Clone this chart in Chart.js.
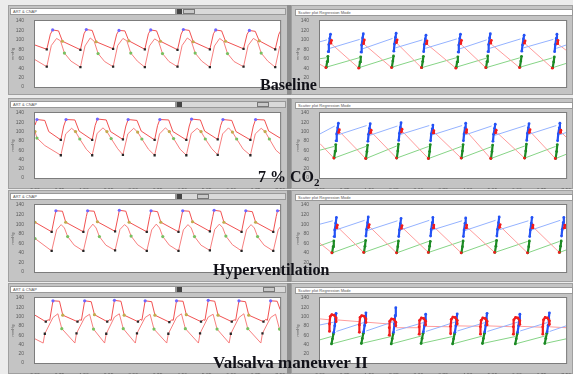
<!DOCTYPE html>
<html>
<head>
<meta charset="utf-8">
<script src="https://cdn.jsdelivr.net/npm/chart.js@4.4.1/dist/chart.umd.min.js"></script>
<style>
  body { margin: 0; width: 573px; height: 374px; background: #ececec; position: relative; overflow: hidden; font-family: "Liberation Sans", Arial, sans-serif; }
  .panel { position: absolute; background: #c4c4c4; border: 1px solid #a0a0a0; box-sizing: border-box; }
  .bar { position: absolute; height: 7px; background: #fff; border: 1px solid #999; box-sizing: border-box; font-size: 4px; line-height: 5px; padding-left: 2px; color: #555; white-space: nowrap; overflow: hidden; }
  .track { position: absolute; height: 7px; background: #d9d9d9; border: 1px solid #999; box-sizing: border-box; }
  .thumb { position: absolute; top: 0; height: 5px; width: 12px; background: #c9c9c9; border: 1px solid #777; box-sizing: border-box; }
  .arrow { position: absolute; top: 0; width: 5px; height: 5px; background: #444; }
  .sep { position: absolute; left: 287px; width: 4px; background: #8e8e8e; }
  canvas { position: absolute; }
  .label { position: absolute; font-family: "Liberation Serif", "Times New Roman", serif; font-weight: bold; font-size: 16px; line-height: 1; color: #111118; white-space: nowrap; z-index: 5; }
  .label sub { font-size: 11px; line-height: 0; vertical-align: -4px; }
</style>
</head>
<body>
<div class="label" style="left:260px;top:77px">Baseline</div>
<div class="label" style="left:258px;top:169px">7 % CO<sub>2</sub></div>
<div class="label" style="left:213px;top:262px">Hyperventilation</div>
<div class="label" style="left:213px;top:354px;font-size:17px">Valsalva maneuver II</div>
<script>
// axis ticks
const pressureTicks = [0, 20, 40, 60, 80, 100, 120, 140];
const timeTickValues = [0, 0.75, 1.5, 2.25, 3, 3.75, 4.5, 5.25, 6, 6.75, 7.5];
const timeTickLabels = ['0.00', '0.75', '1.50', '2.25', '3.00', '3.75', '4.50', '5.25', '6.00', '6.75', '7.50'];

// ---- Baseline ----
const baseUpper = [[0,89],[0.36,80],[0.47,112],[0.54,121],[0.72,119],[0.84,97],
  [1.39,79],[1.50,113],[1.57,122],[1.75,120],[1.87,96],
  [2.39,81],[2.50,112],[2.57,120],[2.75,119],[2.87,98],
  [3.36,80],[3.47,113],[3.54,121],[3.72,119],[3.84,97],
  [4.36,79],[4.47,112],[4.54,122],[4.72,120],[4.84,96],
  [5.35,80],[5.46,113],[5.53,121],[5.71,119],[5.83,97],
  [6.38,81],[6.49,112],[6.56,120],[6.74,118],[6.86,98],
  [7.35,80],[7.46,112],[7.53,121]];
const baseLower = [[0,58],[0.36,43],[0.50,88],[0.66,103],[0.78,98],[0.90,72],[1.10,55],
  [1.39,42],[1.53,87],[1.69,104],[1.81,97],[1.93,71],[2.13,54],
  [2.39,43],[2.53,88],[2.69,103],[2.81,98],[2.93,72],[3.13,55],
  [3.36,42],[3.50,87],[3.66,102],[3.78,97],[3.90,71],[4.10,54],
  [4.36,43],[4.50,88],[4.66,104],[4.78,98],[4.90,72],[5.10,55],
  [5.35,42],[5.49,87],[5.65,103],[5.77,97],[5.89,71],[6.09,54],
  [6.38,43],[6.52,88],[6.68,103],[6.80,98],[6.92,72],[7.12,55],
  [7.35,42],[7.49,87]];
const baseBlack = [[0.36,80],[0.36,43],[1.39,79],[1.39,42],[2.39,81],[2.39,43],[3.36,80],[3.36,42],
  [4.36,79],[4.36,43],[5.35,80],[5.35,42],[6.38,81],[6.38,43],[7.35,80],[7.35,42]];
const baseBlue = [[0.54,121],[1.57,122],[2.57,120],[3.54,121],[4.54,122],[5.53,121],[6.56,120]];
const baseYellow = [[0.84,97],[1.87,96],[2.87,98],[3.84,97],[4.84,96],[5.83,97],[6.86,98]];
const baseGreen = [[0.90,72],[1.93,71],[2.93,72],[3.90,71],[4.90,72],[5.89,71],[6.92,72]];

const baseSpotsGreen = [[0.19,42],[0.22,54],[0.24,65],null,[1.19,41],[1.22,53],[1.24,64],null,[2.19,42],[2.22,55],[2.24,66],null,
  [3.10,41],[3.13,54],[3.15,65],null,[4.15,42],[4.18,53],[4.20,64],null,[5.06,41],[5.09,54],[5.11,66],null,
  [6.09,42],[6.12,55],[6.14,65],null,[7.09,41],[7.12,53],[7.14,64]];
const baseSpotsBlue = [[0.25,75],[0.27,90],[0.30,103],[0.32,112],null,[1.25,74],[1.27,89],[1.30,104],[1.32,113],null,
  [2.25,76],[2.27,91],[2.30,105],[2.32,114],null,[3.16,75],[3.18,90],[3.21,102],[3.23,110],null,
  [4.21,74],[4.23,89],[4.26,103],[4.28,112],null,[5.12,75],[5.14,90],[5.17,104],[5.19,113],null,
  [6.15,76],[6.17,89],[6.20,102],[6.22,110],null,[7.15,75],[7.17,90],[7.20,103],[7.22,112]];
const baseSpotsRed = [[0.18,41],null,[0.33,93],[0.35,99],null,[1.18,40],null,[1.33,92],[1.35,100],null,
  [2.18,41],null,[2.33,94],[2.35,100],null,[3.09,41],null,[3.24,92],[3.26,98],null,
  [4.14,40],null,[4.29,92],[4.31,99],null,[5.05,41],null,[5.20,93],[5.22,99],null,
  [6.08,41],null,[6.23,93],[6.25,98],null,[7.08,40],null,[7.23,92],[7.25,99]];
const baseLineBlue = [[0,96],[0.21,100],null,[0.30,82],[1.21,101],null,[1.30,81],[2.21,103],null,[2.30,83],[3.12,100],null,
  [3.21,82],[4.17,102],null,[4.26,81],[5.08,100],null,[5.17,82],[6.11,102],null,[6.20,83],[7.11,101],null,[7.20,82],[7.5,89]];
const baseLineRed = [[0,48],[0.18,41],null,[0.34,92],[1.18,40],null,[1.34,91],[2.18,41],null,[2.34,93],[3.09,41],null,
  [3.24,92],[4.14,40],null,[4.29,91],[5.05,41],null,[5.20,92],[6.08,41],null,[6.23,93],[7.08,40],null,[7.23,92],[7.5,78]];
const baseLineGreen = [[0,60],[0.19,62],null,[0.19,42],[1.19,62],null,[1.19,41],[2.19,63],null,[2.19,42],[3.10,61],null,
  [3.10,41],[4.15,62],null,[4.15,42],[5.06,61],null,[5.06,41],[6.09,62],null,[6.09,42],[7.09,62],null,[7.09,41],[7.5,50]];

// ---- 7 % CO2 ----
const co2Upper = [[0,114],[0.06,126],[0.30,124],[0.42,100],
  [0.79,82],[0.88,112],[0.95,126],[1.22,125],[1.35,101],
  [1.75,82],[1.84,113],[1.91,127],[2.18,125],[2.31,100],
  [2.69,83],[2.78,112],[2.85,126],[3.12,124],[3.25,101],
  [3.66,82],[3.75,113],[3.82,126],[4.09,125],[4.22,100],
  [4.63,82],[4.72,112],[4.79,127],[5.06,125],[5.19,101],
  [5.59,83],[5.68,113],[5.75,126],[6.02,124],[6.15,100],
  [6.59,82],[6.68,112],[6.75,126],[7.02,125],[7.15,101],[7.5,86]];
const co2Lower = [[0,100],[0.06,86],[0.30,70],[0.79,49],
  [0.94,95],[1.12,107],[1.24,100],[1.37,84],[1.57,62],
  [1.75,49],[1.90,96],[2.08,108],[2.20,100],[2.33,85],[2.53,63],
  [2.69,50],[2.84,95],[3.02,107],[3.14,99],[3.27,84],[3.47,62],
  [3.66,49],[3.81,95],[3.99,108],[4.11,100],[4.24,85],[4.44,62],
  [4.63,49],[4.78,96],[4.96,107],[5.08,100],[5.21,84],[5.41,63],
  [5.59,50],[5.74,95],[5.92,108],[6.04,99],[6.17,84],[6.37,62],
  [6.59,49],[6.74,95],[6.92,107],[7.04,100],[7.17,84],[7.37,60],[7.5,52]];
const co2Black = [[0.79,82],[0.79,49],[1.75,82],[1.75,49],[2.69,83],[2.69,50],[3.66,82],[3.66,49],
  [4.63,82],[4.63,49],[5.59,83],[5.59,50],[6.59,82],[6.59,49]];
const co2Blue = [[0.06,126],[0.95,126],[1.91,127],[2.85,126],[3.82,126],[4.79,127],[5.75,126],[6.75,126]];
const co2Yellow = [[0,100],[1.24,100],[2.20,100],[3.14,99],[4.11,100],[5.08,100],[6.04,99],[7.04,100]];
const co2Green = [[0.06,86],[1.37,84],[2.33,85],[3.27,84],[4.24,85],[5.21,84],[6.17,84],[7.17,84]];

const co2SpotsGreen = [[0.43,43],[0.46,58],[0.48,72],null,[1.40,42],[1.43,57],[1.45,71],null,[2.34,43],[2.37,58],[2.39,73],null,
  [3.31,42],[3.34,57],[3.36,72],null,[4.31,43],[4.34,58],[4.36,72],null,[5.21,42],[5.24,57],[5.26,71],null,
  [6.24,43],[6.27,58],[6.29,73],null,[7.18,42],[7.21,57],[7.23,72]];
const co2SpotsBlue = [[0.49,80],[0.51,95],[0.54,108],[0.56,118],null,[1.46,79],[1.48,94],[1.51,107],[1.53,117],null,
  [2.40,81],[2.42,96],[2.45,109],[2.47,119],null,[3.37,80],[3.39,95],[3.42,106],[3.44,114],null,
  [4.37,80],[4.39,95],[4.42,108],[4.44,118],null,[5.27,79],[5.29,94],[5.32,107],[5.34,116],null,
  [6.30,81],[6.32,96],[6.35,108],[6.37,117],null,[7.24,80],[7.26,95],[7.29,108],[7.31,118]];
const co2SpotsRed = [[0.42,43],null,[0.57,98],[0.59,104],null,[1.39,42],null,[1.54,97],[1.56,103],null,
  [2.33,43],null,[2.48,99],[2.50,105],null,[3.30,42],null,[3.45,97],[3.47,102],null,
  [4.30,43],null,[4.45,98],[4.47,104],null,[5.20,42],null,[5.35,97],[5.37,103],null,
  [6.23,43],null,[6.38,98],[6.40,104],null,[7.17,42],null,[7.32,98],[7.34,103]];
const co2LineBlue = [[0,95],[0.45,112],null,[0.55,93],[1.42,113],null,[1.52,92],[2.36,112],null,[2.46,94],[3.33,113],null,
  [3.43,93],[4.33,113],null,[4.43,93],[5.23,112],null,[5.33,92],[6.26,113],null,[6.36,94],[7.20,113],null,[7.30,93],[7.5,98]];
const co2LineRed = [[0,74],[0.42,43],null,[0.58,101],[1.39,42],null,[1.55,100],[2.33,43],null,[2.49,102],[3.30,42],null,
  [3.46,100],[4.30,43],null,[4.46,101],[5.20,42],null,[5.36,100],[6.23,43],null,[6.39,101],[7.17,42],null,[7.33,100],[7.5,88]];
const co2LineGreen = [[0,60],[0.43,68],null,[0.43,43],[1.40,68],null,[1.40,42],[2.34,69],null,[2.34,43],[3.31,68],null,
  [3.31,42],[4.31,68],null,[4.31,43],[5.21,67],null,[5.21,42],[6.24,69],null,[6.24,43],[7.18,68],null,[7.18,42],[7.5,51]];

// ---- Hyperventilation ----
const hyperUpper = [[0,104],[0.51,84],[0.60,115],[0.64,128],[0.84,127],[0.94,104],
  [1.48,84],[1.57,116],[1.61,128],[1.81,127],[1.91,105],
  [2.45,85],[2.54,115],[2.58,129],[2.78,127],[2.88,104],
  [3.42,84],[3.51,116],[3.55,128],[3.75,126],[3.85,104],
  [4.39,84],[4.48,115],[4.52,128],[4.72,127],[4.82,105],
  [5.35,85],[5.44,116],[5.48,129],[5.68,127],[5.78,104],
  [6.32,84],[6.41,115],[6.45,128],[6.65,126],[6.75,104],
  [7.29,84],[7.38,116],[7.42,128],[7.5,128]];
const hyperLower = [[0,70],[0.51,44],[0.66,88],[0.80,99],[0.90,92],[1.00,74],[1.20,56],
  [1.48,44],[1.63,88],[1.77,100],[1.87,92],[1.97,74],[2.17,56],
  [2.45,45],[2.60,89],[2.74,99],[2.84,93],[2.94,75],[3.14,57],
  [3.42,44],[3.57,88],[3.71,100],[3.81,92],[3.91,74],[4.11,56],
  [4.39,44],[4.54,88],[4.68,99],[4.78,92],[4.88,74],[5.08,56],
  [5.35,45],[5.50,89],[5.64,100],[5.74,93],[5.84,75],[6.04,57],
  [6.32,44],[6.47,88],[6.61,99],[6.71,92],[6.81,74],[7.01,56],
  [7.29,44],[7.44,88],[7.5,94]];
const hyperBlack = [[0.51,84],[0.51,44],[1.48,84],[1.48,44],[2.45,85],[2.45,45],[3.42,84],[3.42,44],
  [4.39,84],[4.39,44],[5.35,85],[5.35,45],[6.32,84],[6.32,44],[7.29,84],[7.29,44]];
const hyperBlue = [[0.64,128],[1.61,128],[2.58,129],[3.55,128],[4.52,128],[5.48,129],[6.45,128],[7.42,128]];
const hyperYellow = [[0,104],[0.94,104],[1.91,105],[2.88,104],[3.85,104],[4.82,105],[5.78,104],[6.75,104]];
const hyperGreen = [[0,70],[1.00,74],[1.97,74],[2.94,75],[3.91,74],[4.88,74],[5.84,75],[6.81,74]];

const hyperSpotsGreen = [[0.37,40],[0.40,53],[0.42,65],null,[1.34,41],[1.37,54],[1.39,66],null,[2.34,40],[2.37,53],[2.39,65],null,
  [3.31,41],[3.34,54],[3.36,64],null,[4.31,40],[4.34,53],[4.36,65],null,[5.33,41],[5.36,54],[5.38,66],null,
  [6.33,40],[6.36,53],[6.38,65],null,[7.30,41],[7.33,54],[7.35,65]];
const hyperSpotsBlue = [[0.43,74],[0.45,88],[0.48,102],[0.50,114],null,[1.40,75],[1.42,89],[1.45,103],[1.47,115],null,
  [2.40,74],[2.42,88],[2.45,101],[2.47,112],null,[3.37,75],[3.39,89],[3.42,103],[3.44,114],null,
  [4.37,74],[4.39,88],[4.42,102],[4.44,113],null,[5.39,75],[5.41,89],[5.44,103],[5.46,115],null,
  [6.39,74],[6.41,88],[6.44,102],[6.46,114],null,[7.36,75],[7.38,89],[7.41,103],[7.43,114]];
const hyperSpotsRed = [[0.36,40],null,[0.51,92],[0.53,98],null,[1.33,41],null,[1.48,93],[1.50,99],null,
  [2.33,40],null,[2.48,91],[2.50,97],null,[3.30,41],null,[3.45,92],[3.47,98],null,
  [4.30,40],null,[4.45,92],[4.47,98],null,[5.32,41],null,[5.47,93],[5.49,99],null,
  [6.32,40],null,[6.47,92],[6.49,98],null,[7.29,41],null,[7.44,92],[7.46,98]];
const hyperLineBlue = [[0,100],[0.39,107],null,[0.49,88],[1.36,108],null,[1.46,87],[2.36,107],null,[2.46,88],[3.33,108],null,
  [3.43,88],[4.33,107],null,[4.43,87],[5.35,108],null,[5.45,88],[6.35,107],null,[6.45,88],[7.32,108]];
const hyperLineRed = [[0,60],[0.36,40],null,[0.52,95],[1.33,41],null,[1.49,96],[2.33,40],null,[2.49,94],[3.30,41],null,
  [3.46,95],[4.30,40],null,[4.46,95],[5.32,41],null,[5.48,96],[6.32,40],null,[6.48,95],[7.29,41]];
const hyperLineGreen = [[0,55],[0.37,64],null,[0.37,40],[1.34,64],null,[1.34,41],[2.34,65],null,[2.34,40],[3.31,64],null,
  [3.31,41],[4.31,64],null,[4.31,40],[5.33,65],null,[5.33,41],[6.33,64],null,[6.33,40],[7.30,64],null,[7.30,41],[7.5,46]];

// ---- Valsalva maneuver II ----
const valsUpper = [[0,103],[0.33,89],[0.40,93],[0.45,92],[0.55,134],[0.75,133],[0.85,103],
  [1.30,89],[1.37,93],[1.42,92],[1.52,134],[1.72,132],[1.82,104],
  [2.21,89],[2.28,93],[2.33,92],[2.43,135],[2.63,133],[2.73,103],
  [3.15,89],[3.22,94],[3.27,92],[3.37,134],[3.57,132],[3.67,103],
  [4.11,88],[4.18,93],[4.23,92],[4.33,134],[4.53,133],[4.63,104],
  [5.08,89],[5.15,93],[5.20,92],[5.30,135],[5.50,133],[5.60,103],
  [6.02,89],[6.09,93],[6.14,92],[6.24,134],[6.44,132],[6.54,103],
  [6.99,89],[7.06,94],[7.11,92],[7.21,134],[7.41,133],[7.5,115]];
const valsLower = [[0,52],[0.25,43],[0.30,63],[0.55,98],[0.70,106],[0.82,74],
  [1.22,43],[1.27,64],[1.52,98],[1.67,105],[1.79,73],
  [2.13,43],[2.18,63],[2.43,99],[2.58,106],[2.70,74],
  [3.07,43],[3.12,64],[3.37,98],[3.52,105],[3.64,73],
  [4.03,43],[4.08,63],[4.33,98],[4.48,106],[4.60,74],
  [5.00,43],[5.05,64],[5.30,99],[5.45,105],[5.57,73],
  [5.94,43],[5.99,63],[6.24,98],[6.39,106],[6.51,74],
  [6.91,43],[6.96,64],[7.21,98],[7.36,105],[7.48,73],[7.5,70]];
const valsBlack = [[0.33,89],[0.30,63],[1.30,89],[1.27,64],[2.21,89],[2.18,63],[3.15,89],[3.12,64],
  [4.11,88],[4.08,63],[5.08,89],[5.05,64],[6.02,89],[5.99,63],[6.99,89],[6.96,64]];
const valsBlue = [[0.55,134],[1.52,134],[2.43,135],[3.37,134],[4.33,134],[5.30,135],[6.24,134],[7.21,134]];
const valsYellow = [[0.85,103],[1.82,104],[2.73,103],[3.67,103],[4.63,104],[5.60,103],[6.54,103]];
const valsGreen = [[0.82,74],[1.79,73],[2.70,74],[3.64,73],[4.60,74],[5.57,73],[6.51,74],[7.48,73]];

const valsSpotsGreen = [[0.35,41],[0.38,52],[0.41,63],null,[1.26,42],[1.29,53],[1.32,64],null,[2.17,41],[2.20,52],[2.23,63],null,
  [3.08,42],[3.11,53],[3.14,64],null,[4.04,41],[4.07,52],[4.10,63],null,[4.95,42],[4.98,53],[5.01,64],null,
  [5.95,41],[5.98,52],[6.01,63],null,[6.85,42],[6.88,53],[6.91,64]];
const valsSpotsBlue = [[0.42,66],[0.45,80],[0.47,95],[0.49,107],null,[1.33,67],[1.36,81],[1.38,96],[1.40,108],null,
  [2.24,66],[2.27,84],[2.29,102],[2.31,119],null,[3.15,67],[3.18,80],[3.20,94],[3.22,105],null,
  [4.11,66],[4.14,80],[4.16,95],[4.18,106],null,[5.02,67],[5.05,81],[5.07,95],[5.09,107],null,
  [6.02,66],[6.05,80],[6.07,94],[6.09,105],null,[6.92,67],[6.95,81],[6.97,96],[6.99,108]];
const valsSpotsRed = [[0.29,68],[0.29,84],[0.31,100],[0.36,104],[0.43,103],[0.49,97],[0.49,89],null,
  [1.20,66],[1.20,82],[1.22,98],[1.27,102],[1.34,101],[1.40,95],[1.40,87],null,
  [2.11,60],[2.11,76],[2.13,90],[2.18,95],[2.25,94],[2.31,88],[2.31,80],null,
  [3.02,62],[3.02,78],[3.04,92],[3.09,97],[3.16,96],[3.22,90],[3.22,82],null,
  [3.98,63],[3.98,79],[4.00,94],[4.05,99],[4.12,98],[4.18,92],[4.18,84],null,
  [4.89,62],[4.89,78],[4.91,92],[4.96,97],[5.03,96],[5.09,90],[5.09,82],null,
  [5.89,62],[5.89,78],[5.91,93],[5.96,98],[6.03,97],[6.09,91],[6.09,83],null,
  [6.79,62],[6.79,78],[6.81,93],[6.86,98],[6.93,97],[6.99,91],[6.99,83]];
const valsLineBlue = [[0,82],[0.42,88],null,[0.50,68],[1.33,87],null,[1.41,69],[2.24,89],null,[2.32,70],[3.15,87],null,
  [3.23,68],[4.11,88],null,[4.19,69],[5.02,87],null,[5.10,68],[6.02,88],null,[6.10,69],[6.92,87],null,[7.00,68],[7.5,80]];
const valsLineRed = [[0,95],[0.29,93],null,[0.49,93],[1.20,89],null,[1.40,88],[2.11,84],null,[2.31,76],[3.02,76],null,
  [3.22,79],[3.98,78],null,[4.18,80],[4.89,79],null,[5.09,80],[5.89,78],null,[6.09,79],[6.79,77],null,[6.99,78],[7.5,76]];
const valsLineGreen = [[0,50],[0.35,57],null,[0.35,41],[1.26,58],null,[1.26,42],[2.17,57],null,[2.17,41],[3.08,58],null,
  [3.08,42],[4.04,57],null,[4.04,41],[4.95,58],null,[4.95,42],[5.95,57],null,[5.95,41],[6.85,58],null,[6.85,42],[7.5,52]];

// panel geometry per row
const rows = [
  {top: 5, bar: 8, plotTop: 18, plotBottom: 87, bottom: 95, thumb: 182},
  {top: 98, bar: 101, plotTop: 110, plotBottom: 178, bottom: 189, thumb: 256},
  {top: 190, bar: 193, plotTop: 202, plotBottom: 272, bottom: 282, thumb: 196},
  {top: 283, bar: 286, plotTop: 295, plotBottom: 363, bottom: 374, thumb: 262}
];

function xy(a) {
  return a.map(p => p ? {x: p[0], y: p[1]} : {x: NaN, y: NaN});
}

const plotFrame = {
  id: 'plotFrame',
  beforeDraw(chart) {
    const {ctx, chartArea: a} = chart;
    ctx.save();
    ctx.fillStyle = '#ffffff';
    ctx.fillRect(a.left, a.top, a.right - a.left, a.bottom - a.top);
    ctx.strokeStyle = '#7c7c7c';
    ctx.lineWidth = 1;
    ctx.strokeRect(a.left - 0.5, a.top - 0.5, a.right - a.left + 1, a.bottom - a.top + 1);
    ctx.restore();
  }
};

function chartOptions(xh, padLeft, padRight) {
  return {
    responsive: false,
    animation: false,
    layout: {padding: {left: padLeft, right: padRight, top: 3, bottom: 0}},
    plugins: {legend: {display: false}, tooltip: {enabled: false}},
    scales: {
      x: {
        type: 'linear', min: 0, max: 7.5,
        afterBuildTicks: s => { s.ticks = timeTickValues.map(v => ({value: v})); },
        afterFit: s => { s.height = xh; },
        grid: {display: false}, border: {display: false},
        ticks: {autoSkip: false, maxRotation: 0, padding: 2, color: '#5c5c5c', font: {size: 5},
          callback: (v, i) => timeTickLabels[i]}
      },
      y: {
        min: 0, max: 140,
        afterBuildTicks: s => { s.ticks = pressureTicks.map(v => ({value: v})); },
        afterFit: s => { s.width = 25; },
        grid: {display: false}, border: {display: false},
        title: {display: true, text: 'mmHg', color: '#5c5c5c', font: {size: 4}, padding: 0},
        ticks: {padding: 3, color: '#5c5c5c', font: {size: 5}}
      }
    }
  };
}

function addBox(cls, left, top, width, height, text) {
  const d = document.createElement('div');
  d.className = cls;
  d.style.left = left + 'px';
  d.style.top = top + 'px';
  d.style.width = width + 'px';
  if (height) d.style.height = height + 'px';
  if (text) d.textContent = text;
  document.body.appendChild(d);
  return d;
}

function addCanvas(left, top, width, height) {
  const c = document.createElement('canvas');
  c.width = width;
  c.height = height;
  c.style.left = left + 'px';
  c.style.top = top + 'px';
  document.body.appendChild(c);
  return c;
}

function waveChart(r, upper, lower, black, blue, yellow, green) {
  addBox('panel', 8, r.top, 280, r.bottom - r.top);
  addBox('bar', 10, r.bar, 166, 0, 'ART & CNAP');
  const track = addBox('track', 176, r.bar, 110);
  const thumb = document.createElement('div');
  thumb.className = 'thumb';
  thumb.style.left = (r.thumb - 176) + 'px';
  track.appendChild(thumb);
  const a1 = document.createElement('div');
  a1.className = 'arrow';
  a1.style.left = '0px';
  track.appendChild(a1);
  const cv = addCanvas(8, r.plotTop - 3, 279, r.bottom - r.plotTop + 3);
  const curve = (d, c) => ({data: xy(d), showLine: true, borderColor: c, borderWidth: 1, pointRadius: 0});
  const dots = (d, c, s) => ({data: xy(d), showLine: false, pointRadius: 1.6, pointStyle: s, backgroundColor: c, borderColor: c, borderWidth: 0});
  new Chart(cv, {
    type: 'scatter',
    data: {datasets: [
      dots(black, '#262626', 'rect'),
      dots(blue, '#6f66ff', 'circle'),
      dots(yellow, '#c2ab4e', 'circle'),
      dots(green, '#78c060', 'circle'),
      curve(upper, 'rgba(240,62,62,0.9)'),
      curve(lower, 'rgba(246,105,105,0.85)')
    ]},
    options: chartOptions(r.bottom - r.plotBottom, 2, 4),
    plugins: [plotFrame]
  });
}

function regressionChart(r, spotsGreen, spotsBlue, spotsRed, lineBlue, lineRed, lineGreen) {
  addBox('panel', 291, r.top, 282, r.bottom - r.top);
  addBox('bar', 295, r.bar + 1, 278, 0, 'Scatter plot Regression Mode');
  const cv = addCanvas(292, r.plotTop - 3, 281, r.bottom - r.plotTop + 3);
  const spots = (d, c) => ({data: xy(d), showLine: true, borderColor: c, borderWidth: 2.2, pointRadius: 1.4, backgroundColor: c, pointBorderWidth: 0});
  const thin = (d, c) => ({data: xy(d), showLine: true, borderColor: c, borderWidth: 1, pointRadius: 0});
  new Chart(cv, {
    type: 'scatter',
    data: {datasets: [
      spots(spotsRed, '#f21c1c'),
      spots(spotsBlue, '#2452f5'),
      spots(spotsGreen, '#1c8a24'),
      thin(lineBlue, '#94b2ff'),
      thin(lineRed, '#ff9c9c'),
      thin(lineGreen, '#86d486')
    ]},
    options: chartOptions(r.bottom - r.plotBottom, 3, 5),
    plugins: [plotFrame]
  });
}

waveChart(rows[0], baseUpper, baseLower, baseBlack, baseBlue, baseYellow, baseGreen);
regressionChart(rows[0], baseSpotsGreen, baseSpotsBlue, baseSpotsRed, baseLineBlue, baseLineRed, baseLineGreen);
waveChart(rows[1], co2Upper, co2Lower, co2Black, co2Blue, co2Yellow, co2Green);
regressionChart(rows[1], co2SpotsGreen, co2SpotsBlue, co2SpotsRed, co2LineBlue, co2LineRed, co2LineGreen);
waveChart(rows[2], hyperUpper, hyperLower, hyperBlack, hyperBlue, hyperYellow, hyperGreen);
regressionChart(rows[2], hyperSpotsGreen, hyperSpotsBlue, hyperSpotsRed, hyperLineBlue, hyperLineRed, hyperLineGreen);
waveChart(rows[3], valsUpper, valsLower, valsBlack, valsBlue, valsYellow, valsGreen);
regressionChart(rows[3], valsSpotsGreen, valsSpotsBlue, valsSpotsRed, valsLineBlue, valsLineRed, valsLineGreen);

// dark separator between the two columns
rows.forEach(r => addBox('sep', 287, r.top, 4, r.bottom - r.top));
</script>
</body>
</html>
